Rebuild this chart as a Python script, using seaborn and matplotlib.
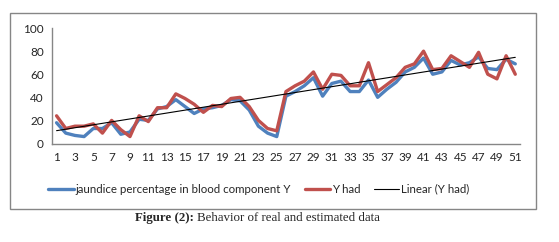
import numpy as np
import pandas as pd
import matplotlib
matplotlib.use("Agg")
import matplotlib.pyplot as plt
import seaborn as sns
from matplotlib.patches import Rectangle

# valores
periodos = list(range(1, 52))
y_real = [18, 9, 7, 6, 13, 13, 18, 8, 10, 21,
          20, 30, 32, 38, 32, 26, 30, 31, 33, 38,
          37, 29, 15, 9, 6, 41, 45, 50, 57, 41,
          52, 54, 45, 45, 55, 40, 47, 53, 62, 66,
          74, 60, 62, 72, 68, 70, 75, 65, 64, 73, 69]
y_had = [24, 13, 15, 15, 17, 9, 20, 12, 6, 24,
         19, 31, 31, 43, 39, 34, 27, 33, 32, 39,
         40, 32, 20, 13, 11, 45, 50, 54, 62, 47,
         60, 59, 50, 50, 70, 45, 51, 57, 66, 69,
         80, 64, 65, 76, 71, 66, 79, 60, 56, 76, 60]
xticks_rotulos = [str(i) for i in range(1, 52, 2)]

cor_azul = "#4F81BD"
cor_vermelha = "#C0504D"

sns.set_style("white")
plt.rcParams["font.family"] = ["Lato", "DejaVu Sans"]

df = pd.DataFrame({"periodo": periodos, "real": y_real, "had": y_had})
coef = np.polyfit(df["periodo"], df["had"], 1)
df["linear"] = np.polyval(coef, df["periodo"])

fig = plt.figure(figsize=(5.59, 2.42), dpi=100)
ax = fig.add_axes([0.093, 0.407, 0.837, 0.477])

sns.lineplot(data=df, x="periodo", y="real", ax=ax, color=cor_azul, linewidth=2.4,
             label="jaundice percentage in blood component Y")
sns.lineplot(data=df, x="periodo", y="had", ax=ax, color=cor_vermelha, linewidth=2.4,
             label="Y had")
sns.lineplot(data=df, x="periodo", y="linear", ax=ax, color="black", linewidth=0.8,
             label="Linear (Y had)")

ax.set_xlim(0.5, 51.5)
ax.set_ylim(0, 100)
ax.set_yticks(range(0, 101, 20))
ax.set_xticks(range(1, 52, 2))
ax.set_xticklabels(xticks_rotulos)
ax.set_xlabel("")
ax.set_ylabel("")
ax.tick_params(axis="both", length=0, labelsize=8.5, pad=6)
for lado in ["top", "right"]:
    ax.spines[lado].set_visible(False)
for lado in ["left", "bottom"]:
    ax.spines[lado].set_color("#868686")
    ax.spines[lado].set_linewidth(1)

ax.get_legend().remove()
handles, labels = ax.get_legend_handles_labels()
fig.legend(handles, labels, loc="center", bbox_to_anchor=(0.463, 0.218), ncol=3,
           frameon=False, fontsize=8.3, handlelength=2.2, handletextpad=0.15,
           columnspacing=1.2)

# moldura externa
fig.patches.append(Rectangle((10 / 559, 1 - 209 / 242), 526 / 559, 196 / 242,
                             transform=fig.transFigure, fill=False,
                             edgecolor="#868686", linewidth=1))

fig.text(0.241, 1 - 218 / 242, "Figure (2):", ha="left", va="center",
         fontsize=9.3, fontweight="bold", family="Liberation Serif")
fig.text(0.352, 1 - 218 / 242, "Behavior of real and estimated data", ha="left",
         va="center", fontsize=9.3, family="Liberation Serif")

plt.savefig("out.png", dpi=100)
